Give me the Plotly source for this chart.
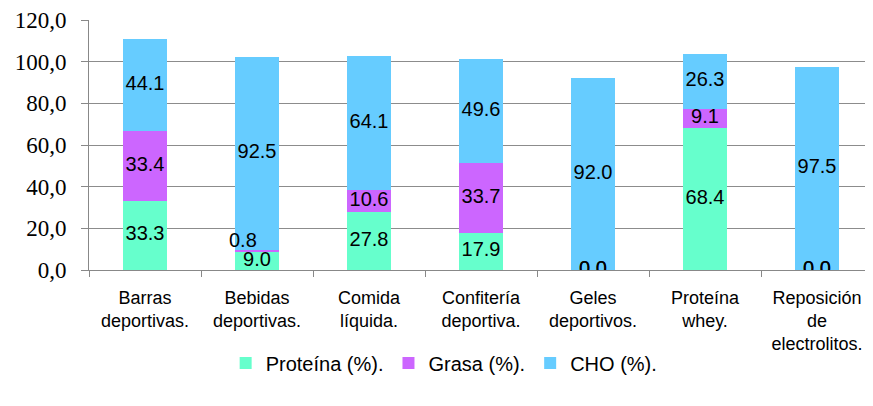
import plotly.graph_objects as go

categories = ["Barras<br>deportivas.", "Bebidas<br>deportivas.", "Comida<br>líquida.",
              "Confitería<br>deportiva.", "Geles<br>deportivos.", "Proteína<br>whey.",
              "Reposición<br>de<br>electrolitos."]
proteina = [33.3, 9.0, 27.8, 17.9, 0.0, 68.4, 0.0]
grasa = [33.4, 0.8, 10.6, 33.7, 0.0, 9.1, 0.0]
cho = [44.1, 92.5, 64.1, 49.6, 92.0, 26.3, 97.5]

series = [("Proteína (%).", proteina, "#66FFCC"),
          ("Grasa (%).", grasa, "#CC66FF"),
          ("CHO (%).", cho, "#66CCFF")]

def fmt(v):
    return "0,0" if v == 0 else f"{v:.1f}"

LABEL_FONT = dict(family="Liberation Sans, Arial", size=20, color="black")

fig = go.Figure()
base = [0.0] * len(categories)
label_x, label_y, label_t = [], [], []
for name, vals, col in series:
    fig.add_trace(go.Bar(x=categories, y=vals, name=name, marker_color=col,
                         marker_line_width=0))
    for i, v in enumerate(vals):
        label_x.append(categories[i])
        label_y.append(base[i] + v / 2)
        label_t.append(fmt(v))
        base[i] += v

# the small Bebidas grasa label was moved manually in the original
idx = len(categories) + 1
shown = [t if k != idx else "" for k, t in enumerate(label_t)]
fig.add_trace(go.Scatter(x=label_x, y=label_y, text=shown, mode="text",
                         textfont=LABEL_FONT,
                         showlegend=False, cliponaxis=True, hoverinfo="skip"))
fig.add_annotation(x=categories[1], y=label_y[idx], text=label_t[idx], showarrow=False,
                   xshift=-14, yshift=10, font=LABEL_FONT)

# page body has an 8px margin: size the figure so it fills the 873x406 window
fig.update_layout(
    barmode="stack", bargap=0.6,
    width=865, height=398,
    margin=dict(l=81, r=0, t=12, b=136),
    plot_bgcolor="white", paper_bgcolor="white",
    separators=",.",
    legend=dict(orientation="h", x=0.453, xanchor="center", y=-0.372, yanchor="middle",
                font=dict(family="Liberation Sans, Arial", size=20, color="black"),
                traceorder="normal", itemwidth=30),
    xaxis=dict(showline=True, linecolor="#888888", linewidth=1,
               ticks="outside", ticklen=6, tickcolor="#888888",
               tickson="boundaries", automargin=False, ticklabelstandoff=11,
               tickfont=dict(family="Liberation Sans, Arial", size=18, color="black")),
    yaxis=dict(range=[0, 120], dtick=20, tickformat=".1f", automargin=False,
               showgrid=True, gridcolor="#8c8c8c", gridwidth=1,
               showline=True, linecolor="#888888", linewidth=1,
               ticks="outside", ticklen=7, tickcolor="#888888",
               ticklabelstandoff=10,
               zeroline=False,
               tickfont=dict(family="Liberation Serif, DejaVu Serif", size=23, color="black")),
)

fig.write_html("out.html")
